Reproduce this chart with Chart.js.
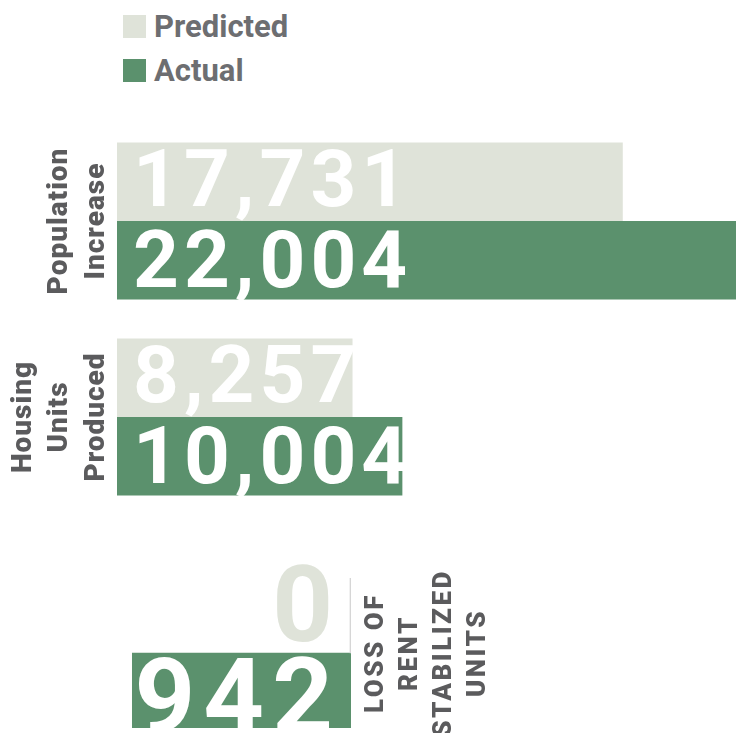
<!DOCTYPE html>
<html>
<head>
<meta charset="utf-8">
<script src="https://cdn.jsdelivr.net/npm/chart.js@4.4.1/dist/chart.umd.min.js"></script>
<style>
  html, body { margin: 0; padding: 0; background: #fff; }
  #wrap { position: relative; width: 736px; height: 733px; overflow: hidden; font-family: Roboto, sans-serif; }
  #topChart { position: absolute; left: 0; top: 123px; }
  #lossChart { position: absolute; left: 0; top: 560px; }
  .legend-item { position: absolute; left: 123px; height: 23px; }
  .legend-box { position: absolute; left: 0; top: 0; width: 23px; height: 23px; }
  .legend-text { position: absolute; left: 31px; top: 0; font: bold 31px Roboto; line-height: 23px; color: #6d6e71; white-space: nowrap; }
</style>
</head>
<body>
<div id="wrap">
  <div id="legend"></div>
  <canvas id="topChart" width="736" height="392"></canvas>
  <canvas id="lossChart" width="520" height="173"></canvas>
</div>
<script>
var seriesNames = ['Predicted', 'Actual'];
var seriesColors = ['#dfe3d9', '#5b916d'];
var categories = [['Population', 'Increase'], ['Housing', 'Units', 'Produced']];
var predicted = [17731, 8257];
var actual = [22004, 10004];
var lossCategory = [['LOSS OF', 'RENT', 'STABILIZED', 'UNITS']];
var lossPredicted = [0];
var lossActual = [942];

// legend, stacked
var legend = document.getElementById('legend');
seriesNames.forEach(function(name, i) {
  var item = document.createElement('div');
  item.className = 'legend-item';
  item.style.top = (15 + i * 44) + 'px';
  item.innerHTML = '<div class="legend-box" style="background:' + seriesColors[i] + '"></div>' +
    '<span class="legend-text">' + name + '</span>';
  legend.appendChild(item);
});

// rotated category labels next to the chart area
var categoryLabels = {
  id: 'categoryLabels',
  afterDraw: function(chart, args, opts) {
    var ctx = chart.ctx, area = chart.chartArea, yScale = chart.scales.y;
    ctx.save();
    ctx.font = opts.font;
    ctx.letterSpacing = opts.letterSpacing;
    ctx.fillStyle = opts.color;
    ctx.textAlign = 'center';
    ctx.textBaseline = 'middle';
    chart.data.labels.forEach(function(lines, i) {
      var y = yScale.getPixelForValue(i);
      lines.forEach(function(line, k) {
        var x;
        if (opts.side === 'left') {
          x = area.left - opts.gap - (lines.length - 1 - k) * opts.lineHeight;
        } else {
          x = area.right + opts.gap + k * opts.lineHeight;
        }
        ctx.save();
        ctx.translate(x, y);
        ctx.rotate(-Math.PI / 2);
        ctx.fillText(line, 0, 0);
        ctx.restore();
      });
    });
    ctx.restore();
  }
};

// big numbers inside the bars
var valueLabels = {
  id: 'valueLabels',
  afterDatasetsDraw: function(chart, args, opts) {
    var ctx = chart.ctx, xScale = chart.scales.x, area = chart.chartArea;
    var dir = xScale.options.reverse ? -1 : 1;
    var zero = xScale.getPixelForValue(0);
    ctx.save();
    ctx.beginPath();
    ctx.rect(0, 0, chart.width, area.bottom);
    ctx.clip();
    ctx.font = opts.font;
    ctx.letterSpacing = opts.letterSpacing;
    ctx.textAlign = dir > 0 ? 'left' : 'right';
    ctx.textBaseline = 'alphabetic';
    chart.data.datasets.forEach(function(ds, d) {
      chart.getDatasetMeta(d).data.forEach(function(bar, i) {
        var v = ds.data[i];
        ctx.fillStyle = v === 0 ? opts.zeroColor : '#ffffff';
        ctx.fillText(v.toLocaleString('en-US'), zero + dir * opts.pad, bar.y + opts.baseline[d]);
      });
    });
    ctx.restore();
  }
};

var topChart = new Chart(document.getElementById('topChart'), {
  type: 'bar',
  data: {
    labels: categories,
    datasets: [
      { label: seriesNames[0], data: predicted, backgroundColor: seriesColors[0] },
      { label: seriesNames[1], data: actual, backgroundColor: seriesColors[1] }
    ]
  },
  options: {
    indexAxis: 'y',
    responsive: false,
    animation: false,
    layout: { padding: { left: 117, right: 0, top: 0, bottom: 0 } },
    datasets: { bar: { categoryPercentage: 0.8, barPercentage: 1 } },
    scales: {
      x: { display: false, min: 0, max: 21700 },
      y: { display: false }
    },
    plugins: {
      legend: { display: false },
      tooltip: { enabled: false },
      categoryLabels: { side: 'left', font: '900 28px Roboto', letterSpacing: '1px', color: '#5b5b5d', gap: 20.5, lineHeight: 36.5 },
      valueLabels: { font: 'bold 80px Roboto', letterSpacing: '5px', pad: 16, baseline: [24, 27], zeroColor: seriesColors[0] }
    }
  },
  plugins: [categoryLabels, valueLabels]
});

var lossChart = new Chart(document.getElementById('lossChart'), {
  type: 'bar',
  data: {
    labels: lossCategory,
    datasets: [
      { label: seriesNames[0], data: lossPredicted, backgroundColor: '#d6d6d6', minBarLength: 2 },
      { label: seriesNames[1], data: lossActual, backgroundColor: seriesColors[1] }
    ]
  },
  options: {
    indexAxis: 'y',
    responsive: false,
    animation: false,
    layout: { padding: { left: 0, right: 169, top: 18, bottom: 5 } },
    datasets: { bar: { categoryPercentage: 1, barPercentage: 1 } },
    scales: {
      x: { display: false, reverse: true, min: 0, max: 1512 },
      y: { display: false }
    },
    plugins: {
      legend: { display: false },
      tooltip: { enabled: false },
      categoryLabels: { side: 'right', font: '900 26px Roboto', letterSpacing: '2.5px', color: '#5b5b5d', gap: 25, lineHeight: 34 },
      valueLabels: { font: 'bold 106px Roboto', letterSpacing: '8px', pad: 10, baseline: [25, 42], zeroColor: seriesColors[0] }
    }
  },
  plugins: [categoryLabels, valueLabels]
});
</script>
</body>
</html>
